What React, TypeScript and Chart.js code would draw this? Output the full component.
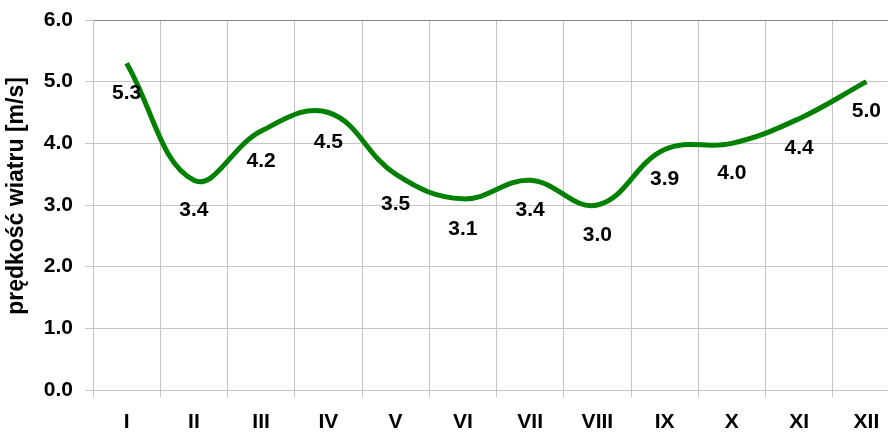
import React, { useEffect, useRef } from "react";
import { Chart, registerables } from "chart.js";

Chart.register(...registerables);

const months = ["I", "II", "III", "IV", "V", "VI", "VII", "VIII", "IX", "X", "XI", "XII"];
const windSpeed = [5.3, 3.4, 4.2, 4.5, 3.5, 3.1, 3.4, 3.0, 3.9, 4.0, 4.4, 5.0];
const yTicks = [0, 1, 2, 3, 4, 5, 6];
const yTitle = "prędkość wiatru [m/s]";

const FONT = "'Liberation Sans', Arial, sans-serif";
const GRID = "#c4c4c4";

const labelPlugin = {
  id: "pointLabels",
  afterDatasetsDraw(chart: any) {
    const ctx = chart.ctx;
    const meta = chart.getDatasetMeta(0);
    ctx.save();
    ctx.font = `bold 21px ${FONT}`;
    ctx.fillStyle = "#000";
    ctx.textAlign = "center";
    ctx.textBaseline = "middle";
    meta.data.forEach((pt: any, i: number) => {
      ctx.fillText(windSpeed[i].toFixed(1), pt.x, pt.y + 30);
    });
    ctx.restore();
  },
};

const titlePlugin = {
  id: "yTitle",
  afterDraw(chart: any) {
    const ctx = chart.ctx;
    ctx.save();
    ctx.translate(23, 196);
    ctx.rotate(-Math.PI / 2);
    ctx.font = `bold 23px ${FONT}`;
    ctx.fillStyle = "#000";
    ctx.textAlign = "center";
    ctx.textBaseline = "alphabetic";
    ctx.fillText(yTitle, 0, 0);
    ctx.restore();
  },
};

export default function App() {
  const ref = useRef<HTMLCanvasElement>(null);
  useEffect(() => {
    if (!ref.current) return;
    const chart = new Chart(ref.current, {
      type: "line",
      data: {
        labels: months,
        datasets: [
          {
            data: windSpeed,
            borderColor: "#008000",
            borderWidth: 5,
            pointRadius: 0,
            tension: 0.4,
            fill: false,
          },
        ],
      },
      options: {
        animation: false,
        responsive: false,
        layout: { padding: { top: 20, left: 0, right: 0, bottom: 0 } },
        plugins: { legend: { display: false }, tooltip: { enabled: false } },
        scales: {
          x: {
            offset: true,
            grid: { color: GRID, tickColor: GRID, tickLength: 7, offset: true, lineWidth: 1 },
            border: { color: GRID },
            ticks: { color: "#000", font: { family: FONT, size: 21, weight: "bold" }, padding: 13, maxRotation: 0 },
            afterFit: (s: any) => { s.height = 42; s.paddingLeft = 0; s.paddingRight = 0; },
          },
          y: {
            min: 0,
            max: 6,
            afterBuildTicks: (s: any) => { s.ticks = yTicks.map((v) => ({ value: v })); },
            grid: {
              color: (c: any) => (c.tick && c.tick.value === 6 ? "#868686" : GRID),
              tickColor: GRID,
              tickLength: 8,
              lineWidth: 1,
            },
            border: { color: GRID },
            ticks: {
              color: "#000",
              font: { family: FONT, size: 21, weight: "bold" },
              padding: 12,
              callback: (v: any) => Number(v).toFixed(1),
            },
            afterFit: (s: any) => { s.width = 93; s.paddingTop = 0; s.paddingBottom = 0; },
          },
        },
      },
      plugins: [labelPlugin, titlePlugin],
    });
    return () => chart.destroy();
  }, []);
  return (
    <div style={{ position: "fixed", left: 0, top: 0, width: 888, height: 432, overflow: "hidden", background: "#fff" }}>
      <canvas ref={ref} width={900} height={432} style={{ display: "block" }} />
    </div>
  );
}
